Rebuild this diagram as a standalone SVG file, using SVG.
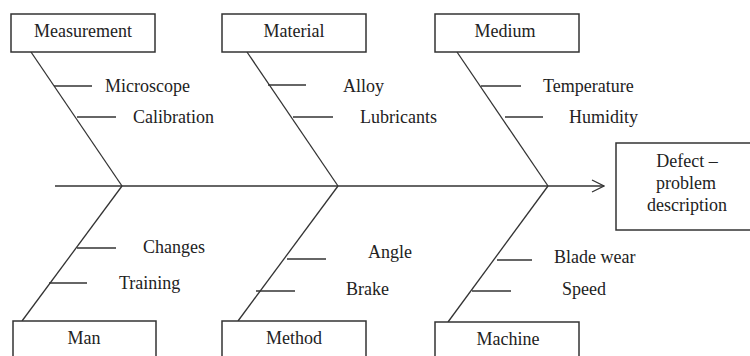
<svg xmlns="http://www.w3.org/2000/svg" width="750" height="356" viewBox="0 0 750 356">
  <style>
    .box { fill: #fff; stroke: #333; stroke-width: 1.5; }
    .ln { fill: none; stroke: #333; stroke-width: 1.3; }
    text { font-family: "Liberation Serif", "Times New Roman", serif; font-size: 18px; fill: #222; }
    .c { text-anchor: middle; }
  </style>
  <defs>
    <marker id="arr" markerUnits="userSpaceOnUse" markerWidth="14" markerHeight="14" refX="13" refY="7" orient="auto">
      <path d="M1,1 L13,7 L1,13" fill="none" stroke="#333" stroke-width="1.3"/>
    </marker>
  </defs>
  <rect width="750" height="356" fill="#fff"/>

  <g id="connectors">
    <line class="ln" x1="55" y1="186" x2="604" y2="186" marker-end="url(#arr)"/>
    <line class="ln" x1="31" y1="52" x2="122" y2="186"/>
    <line class="ln" x1="247" y1="52" x2="338" y2="186"/>
    <line class="ln" x1="457" y1="52" x2="548" y2="186"/>
    <line class="ln" x1="122" y1="186" x2="22" y2="321"/>
    <line class="ln" x1="338" y1="186" x2="238" y2="321"/>
    <line class="ln" x1="548" y1="186" x2="448" y2="322"/>
    <line class="ln" x1="54" y1="86" x2="92" y2="86"/>
    <line class="ln" x1="77" y1="117" x2="116" y2="117"/>
    <line class="ln" x1="268" y1="85" x2="306" y2="85"/>
    <line class="ln" x1="293" y1="117" x2="333" y2="117"/>
    <line class="ln" x1="481" y1="86" x2="521" y2="86"/>
    <line class="ln" x1="505" y1="117" x2="543" y2="117"/>
    <line class="ln" x1="77" y1="248" x2="116" y2="248"/>
    <line class="ln" x1="49" y1="283" x2="87" y2="283"/>
    <line class="ln" x1="287" y1="259" x2="326" y2="259"/>
    <line class="ln" x1="256" y1="291" x2="295" y2="291"/>
    <line class="ln" x1="497" y1="260" x2="532" y2="260"/>
    <line class="ln" x1="472" y1="291" x2="511" y2="291"/>
  </g>

  <g id="measurement">
    <rect class="box" x="11" y="14" width="144" height="38"/>
    <text class="c" x="83" y="37">Measurement</text>
  </g>
  <g id="material">
    <rect class="box" x="222" y="14" width="144" height="38"/>
    <text class="c" x="294" y="37">Material</text>
  </g>
  <g id="medium">
    <rect class="box" x="435" y="14" width="144" height="38"/>
    <text class="c" x="505" y="37">Medium</text>
  </g>
  <g id="man">
    <rect class="box" x="13" y="321" width="143" height="45"/>
    <text class="c" x="84" y="344">Man</text>
  </g>
  <g id="method">
    <rect class="box" x="222" y="321" width="144" height="45"/>
    <text class="c" x="294" y="344">Method</text>
  </g>
  <g id="machine">
    <rect class="box" x="435" y="322" width="144" height="45"/>
    <text class="c" x="508" y="345">Machine</text>
  </g>
  <g id="defect">
    <rect class="box" x="616" y="143" width="140" height="87"/>
    <text class="c" x="687" y="167">Defect –</text>
    <text class="c" x="686" y="189">problem</text>
    <text class="c" x="687" y="211">description</text>
  </g>

  <g id="causes">
    <text x="105" y="92">Microscope</text>
    <text x="133" y="123">Calibration</text>
    <text x="343" y="92">Alloy</text>
    <text x="360" y="123">Lubricants</text>
    <text x="543" y="92">Temperature</text>
    <text x="569" y="123">Humidity</text>
    <text x="143" y="253">Changes</text>
    <text x="119" y="289">Training</text>
    <text x="368" y="258">Angle</text>
    <text x="346" y="295">Brake</text>
    <text x="554" y="263">Blade wear</text>
    <text x="562" y="295">Speed</text>
  </g>
</svg>
